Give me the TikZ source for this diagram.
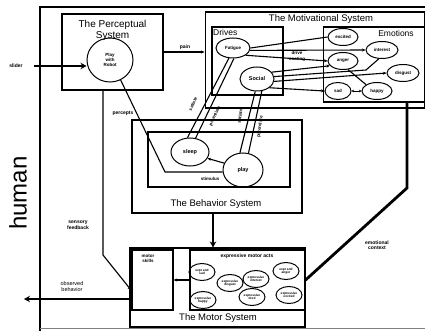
\documentclass[tikz,border=0pt]{standalone}
\usepackage{fontspec}
\setmainfont{Liberation Sans}
\usetikzlibrary{shapes.geometric,arrows.meta,calc}
\begin{document}
\begin{tikzpicture}[x=1pt,y=-1pt,
 box/.style={draw,line width=1.1pt,inner sep=0pt},
 ell/.style={draw,ellipse,line width=1pt,inner sep=0.3pt,font=\fontsize{4.5}{4.8}\selectfont\bfseries,align=center},
 sell/.style={draw,ellipse,line width=1pt,inner sep=0pt,font=\fontsize{3.2}{3.5}\selectfont\bfseries,align=center,minimum width=26pt,minimum height=17pt},
 lab/.style={font=\fontsize{4.5}{5}\selectfont\bfseries,align=center,inner sep=0.3pt},
 ttl/.style={font=\fontsize{9.5}{11}\selectfont,align=center,inner sep=0pt},
 conn/.style={line width=1.1pt},
 arr/.style={line width=1.1pt,-{Stealth[length=3.5pt,width=3pt]}},
 fat/.style={line width=2.8pt,-{Stealth[length=6pt,width=6.5pt]}},
 fatline/.style={line width=2.8pt}]
\useasboundingbox (0,0) rectangle (425,331);
% outer frame
\draw[line width=1.1pt] (425,7) -- (40,7) -- (40,331);
\draw[gray,line width=0.8pt] (40,328) -- (425,328);
\node[rotate=90,font=\fontsize{24}{24}\selectfont,inner sep=0pt] (human) at (18,193) {human};
% boxes
\node[box,minimum width=101pt,minimum height=76pt] (perc) at (112.5,52) {};
\node[box,minimum width=219.4pt,minimum height=96pt] (motiv) at (314.8,60) {};
\node[box,minimum width=71pt,minimum height=68pt] (drives) at (247.5,61) {};
\node[box,minimum width=101.4pt,minimum height=75pt] (emot) at (373.8,64.5) {};
\node[box,minimum width=170pt,minimum height=93pt] (behav) at (217,166.5) {};
\node[box,minimum width=142pt,minimum height=55pt] (behin) at (219,159.5) {};
\node[box,minimum width=175pt,minimum height=79pt] (motor) at (217.5,287.5) {};
\node[box,minimum width=41pt,minimum height=60pt] (mskill) at (152.5,280) {};
\node[box,minimum width=115pt,minimum height=60pt] (expr) at (247.5,280) {};
% titles
\node[ttl,font=\fontsize{10}{11}\selectfont] (tperc) at (112.5,30) {The Perceptual\\System};
\node[ttl] (tmotiv) at (321,19) {The Motivational System};
\node[ttl,font=\fontsize{8.5}{9}\selectfont,anchor=west] (tdrives) at (213,32) {Drives};
\node[ttl,font=\fontsize{8.5}{9}\selectfont] (temot) at (396,33) {Emotions};
\node[ttl] (tbehav) at (216,204) {The Behavior System};
\node[ttl] (tmotor) at (218,318) {The Motor System};
\node[lab,font=\fontsize{5}{5.5}\selectfont\bfseries] (texpr) at (247,256) {expressive motor acts};
\node[lab] (tmskill) at (148,259) {motor\\skills};
% ellipses
\node[ell,minimum width=46pt,minimum height=44pt] (pwr) at (110,60) {Play\\with\\Robot};
\node[ell,minimum width=34pt,minimum height=20pt] (fat) at (233,48) {Fatigue};
\node[ell,minimum width=34pt,minimum height=24pt,font=\fontsize{5.5}{6}\selectfont\bfseries] (soc) at (257,79) {Social};
\node[ell,minimum width=30pt,minimum height=17pt] (exc) at (343,37) {excited};
\node[ell,minimum width=32pt,minimum height=17pt] (int) at (382,50) {interest};
\node[ell,minimum width=30pt,minimum height=17pt] (ang) at (343,61) {anger};
\node[ell,minimum width=32pt,minimum height=17pt] (dis) at (403,73) {disgust};
\node[ell,minimum width=26pt,minimum height=17pt] (sad) at (338,91) {sad};
\node[ell,minimum width=30pt,minimum height=17pt] (hap) at (377,91) {happy};
\node[ell,minimum width=38pt,minimum height=28pt,font=\fontsize{5.5}{6}\selectfont\bfseries] (slp) at (190,152) {sleep};
\node[ell,minimum width=40pt,minimum height=34pt,font=\fontsize{5.5}{6}\selectfont\bfseries] (ply) at (243,170) {play};
\node[sell] (x1) at (202,272) {expr and\\sad};
\node[sell] (x2) at (230,283) {expressive\\disgust};
\node[sell] (x3) at (256,279) {expressive\\interest};
\node[sell] (x4) at (286,271) {expr and\\anger};
\node[sell] (x5) at (203,300) {expressive\\happy};
\node[sell] (x6) at (252,297) {expressive\\tired};
\node[sell] (x7) at (289,295) {expressive\\excited};
% motivational connections
\draw[conn] (fat.east) -- (exc.west);
\draw[arr] (fat.-8) -- (int.west);
\draw[arr] (fat.-30) -- (ang.west);
\node[lab] (ldrive) at (297,53) {drive};
\node[lab] (lcoat) at (297,59) {coating};
\coordinate (k1) at (366,70);
\draw[arr] (soc.25) -- (ang.200);
\draw[conn] (soc.8) -- (k1) -- (int.250);
\draw[arr] (soc.-8) -- (dis.west);
\draw[arr] (soc.-35) -- (sad.west);
\draw[conn] (ang.-60) -- (hap.north west);
\draw[{Stealth[length=2.5pt,width=2.5pt]}-{Stealth[length=2.5pt,width=2.5pt]},line width=0.9pt] (sad.east) -- (hap.west);
% drives to behaviors
\draw[conn] (fat.248) -- (slp.100);
\draw[conn] (fat.275) -- (slp.68);
\node[lab,rotate=65] (ls1) at (193,104) {satiate};
\node[lab,rotate=65] (lp1) at (215,116) {potentiate};
\draw[conn] (soc.262) -- (ply.100);
\draw[conn] (soc.292) -- (ply.72);
\node[lab,rotate=82] (ls2) at (240,116) {satiate};
\node[lab,rotate=82] (lp2) at (260,127) {potentiate};
\draw[arr] (ply.160) -- (slp.-20);
% stimulus
\coordinate (s1) at (165,172);
\draw[conn] (pwr.-62) -- (s1) -- (s1 -| ply.west);
\node[lab] (lstim) at (210,179) {stimulus};
% pain
\draw[arr] (perc.east) -- (perc.east -| motiv.west);
\node[lab,font=\fontsize{5}{5.5}\selectfont\bfseries] (lpain) at (185,47) {pain};
% slider
\coordinate (sl) at (34,66);
\node[lab,font=\fontsize{5}{5.5}\selectfont\bfseries] (lslider) at (16,66) {slider};
\draw[fat] (sl) -- (sl -| pwr.west);
% percepts / sensory feedback
\coordinate (p1) at (103,255);
\coordinate (p2) at (131,290);
\draw[arr] (perc.south -| p1) -- (p1) -- (p2);
\node[lab,font=\fontsize{5}{5.5}\selectfont\bfseries] (lperc) at (123,113) {percepts};
\node[lab,font=\fontsize{5}{5.5}\selectfont\bfseries] (lsens) at (78,225) {sensory\\feedback};
% observed behavior
\coordinate (ob) at (24,299);
\draw[fat] (ob -| mskill.west) -- (ob);
\node[lab,font=\fontsize{5.5}{6}\selectfont] (lobs) at (72,287) {observed\\behavior};
% behavior to motor
\draw[fat] (behav.south -| 213,0) -- (motor.north -| 213,0);
% expressive to motor skills
\draw[arr] (expr.west) -- (expr.west -| mskill.east);
% emotional context
\coordinate (e1) at (407,188);
\draw[fatline] (emot.south -| e1) -- (e1) -- (expr.east);
\node[lab,font=\fontsize{5}{5.5}\selectfont\bfseries] (lemo) at (377,245) {emotional\\context};
\end{tikzpicture}
\end{document}
